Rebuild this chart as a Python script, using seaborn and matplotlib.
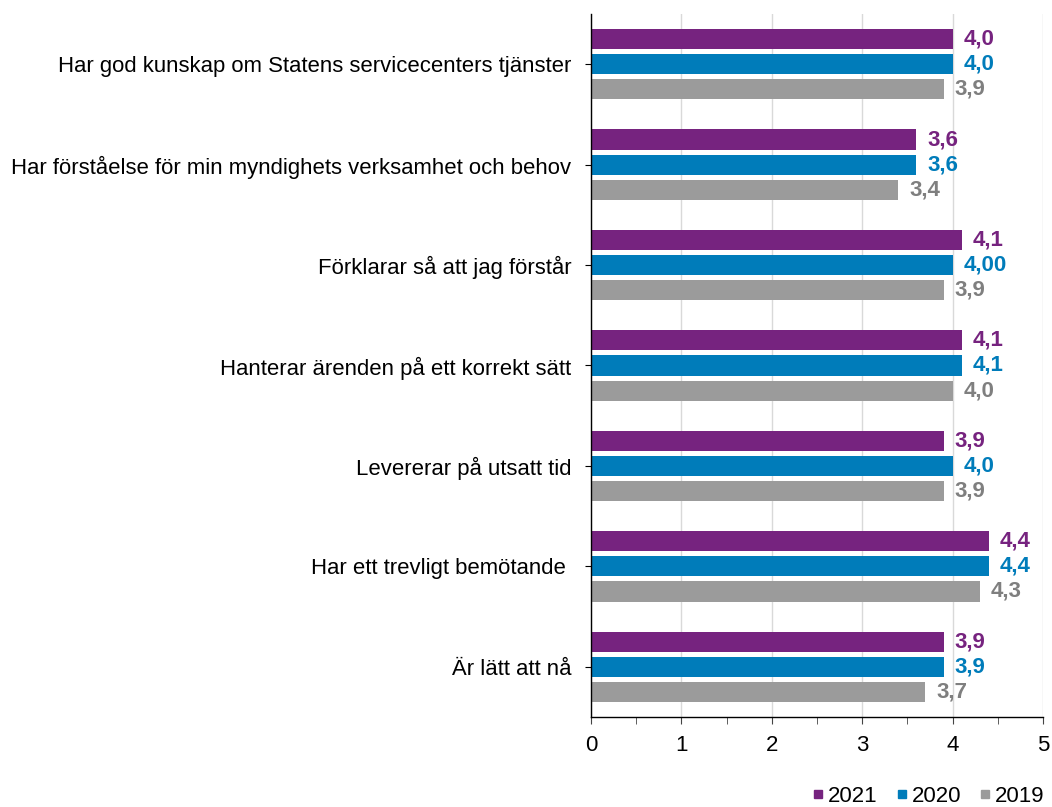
import matplotlib.pyplot as plt
import seaborn as sns
import pandas as pd
from matplotlib.lines import Line2D

categories = ['Har god kunskap om Statens servicecenters tjänster',
              'Har förståelse för min myndighets verksamhet och behov',
              'Förklarar så att jag förstår',
              'Hanterar ärenden på ett korrekt sätt',
              'Levererar på utsatt tid',
              'Har ett trevligt bemötande ',
              'Är lätt att nå']
years = ['2021', '2020', '2019']
v2021 = [4.0, 3.6, 4.1, 4.1, 3.9, 4.4, 3.9]
v2020 = [4.0, 3.6, 4.0, 4.1, 4.0, 4.4, 3.9]
v2019 = [3.9, 3.4, 3.9, 4.0, 3.9, 4.3, 3.7]
lab2021 = ['4,0', '3,6', '4,1', '4,1', '3,9', '4,4', '3,9']
lab2020 = ['4,0', '3,6', '4,00', '4,1', '4,0', '4,4', '3,9']
lab2019 = ['3,9', '3,4', '3,9', '4,0', '3,9', '4,3', '3,7']

colors = ['#76237F', '#007CBA', '#9B9B9B']
text_colors = ['#76237F', '#007CBA', '#7F7F7F']

df = pd.DataFrame({
    'kategori': categories * 3,
    'år': ['2021'] * 7 + ['2020'] * 7 + ['2019'] * 7,
    'värde': v2021 + v2020 + v2019,
})

plt.rcParams['font.family'] = ['Liberation Sans', 'DejaVu Sans']
plt.rcParams['font.size'] = 16

fig = plt.figure(figsize=(10.52, 8.07), dpi=100)
ax = fig.add_axes([0.5618, 0.1115, 0.4296, 0.8712])

sns.barplot(data=df, y='kategori', x='värde', hue='år', hue_order=years,
            palette=colors, orient='h', width=0.75, gap=0.2,
            saturation=1, legend=False, ax=ax)

for cont, labs, tc in zip(ax.containers, [lab2021, lab2020, lab2019], text_colors):
    ax.bar_label(cont, labels=labs, padding=8, color=tc, fontweight='bold', fontsize=16)

ax.set_xlim(0, 5)
ax.set_ylim(6.5, -0.5)
ax.set_xticks([0, 1, 2, 3, 4, 5])
ax.set_xticks([0.5, 1.5, 2.5, 3.5, 4.5], minor=True)
ax.grid(axis='x', color='#D9D9D9', linewidth=1)
ax.set_axisbelow(True)
ax.set_xlabel('')
ax.set_ylabel('')
for s in ['top', 'right']:
    ax.spines[s].set_visible(False)
for s in ['left', 'bottom']:
    ax.spines[s].set_color('#000000')
    ax.spines[s].set_linewidth(1)
ax.tick_params(axis='x', which='both', length=5, color='#444444', labelsize=16, pad=8)
ax.tick_params(axis='y', length=4, labelsize=15.9, pad=10)

handles = [Line2D([], [], marker='s', linestyle='', markersize=6,
                  markerfacecolor=c, markeredgecolor=c) for c in colors]
fig.legend(handles, years, loc='lower right', bbox_to_anchor=(1.012, -0.025),
           ncol=3, frameon=False, fontsize=16, handletextpad=0.19,
           columnspacing=0.85, handlelength=0.5)

fig.savefig('out.png', dpi=100)
